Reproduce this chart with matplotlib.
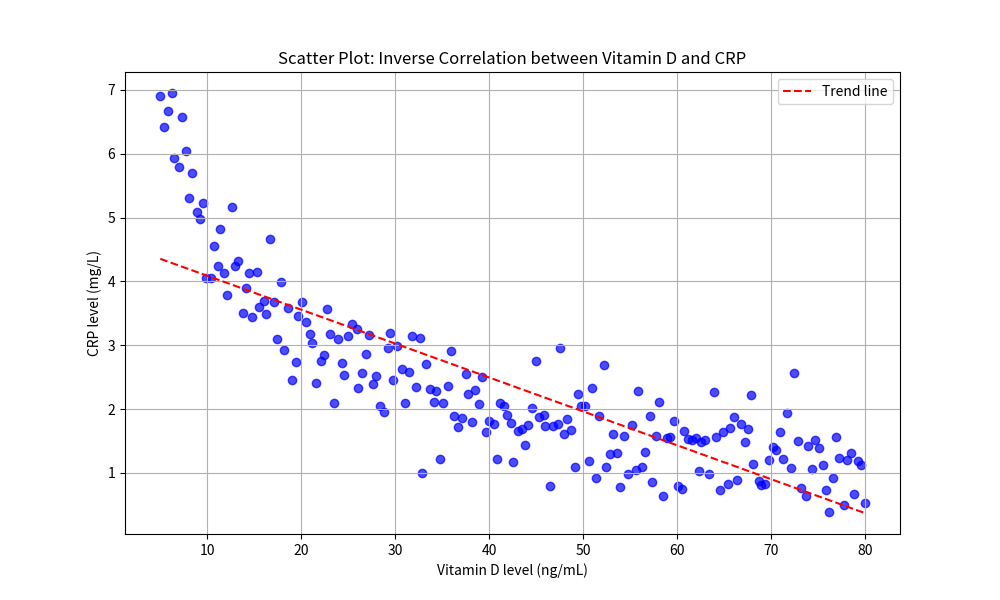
import numpy as np
import matplotlib
matplotlib.use("Agg")
import matplotlib.pyplot as plt

plt.rcParams['font.family'] = ['Noto Sans CJK SC', 'DejaVu Sans']

# values
vitamin_d = [
    5.0, 5.4, 5.8, 6.2, 6.5, 7.0, 7.3, 7.7, 8.1, 8.4, 8.9, 9.2, 9.6, 9.9,
    10.4, 10.7, 11.1, 11.4, 11.8, 12.1, 12.6, 13.0, 13.3, 13.8, 14.1, 14.5, 14.8,
    15.3, 15.5, 16.0, 16.3, 16.7, 17.1, 17.4, 17.9, 18.2, 18.6, 19.0, 19.4, 19.7,
    20.1, 20.5, 20.9, 21.2, 21.6, 22.1, 22.4, 22.8, 23.1, 23.5, 23.9, 24.3, 24.6,
    25.0, 25.4, 25.9, 26.1, 26.5, 26.9, 27.2, 27.7, 28.0, 28.4, 28.8, 29.2, 29.5, 29.8,
    30.2, 30.7, 31.1, 31.5, 31.8, 32.2, 32.6, 32.9, 33.3, 33.7, 34.1, 34.4, 34.8,
    35.1, 35.6, 36.0, 36.3, 36.7, 37.1, 37.5, 37.8, 38.2, 38.5, 38.9, 39.3, 39.7,
    40.0, 40.5, 40.9, 41.2, 41.6, 41.9, 42.3, 42.6, 43.1, 43.5, 43.8, 44.2, 44.6,
    45.0, 45.3, 45.8, 46.0, 46.5, 46.8, 47.3, 47.6, 48.0, 48.3, 48.7, 49.1, 49.5, 49.8,
    50.2, 50.6, 51.0, 51.4, 51.7, 52.2, 52.4, 52.9, 53.2, 53.6, 53.9, 54.4, 54.8,
    55.2, 55.6, 55.9, 56.3, 56.6, 57.1, 57.4, 57.8, 58.1, 58.5, 58.9, 59.3, 59.7,
    60.1, 60.5, 60.8, 61.2, 61.6, 62.0, 62.3, 62.6, 63.0, 63.4, 63.9, 64.2, 64.6, 64.9,
    65.4, 65.7, 66.1, 66.4, 66.8, 67.2, 67.6, 67.9, 68.1, 68.7, 69.0, 69.4, 69.8,
    70.2, 70.6, 71.0, 71.3, 71.7, 72.1, 72.5, 72.9, 73.2, 73.7, 74.0, 74.4, 74.7,
    75.1, 75.5, 75.9, 76.2, 76.6, 76.9, 77.3, 77.8, 78.1, 78.5, 78.9, 79.3, 79.6, 80.0,
]

crp = [
    6.91, 6.42, 6.67, 6.95, 5.93, 5.79, 6.57, 6.04, 5.31, 5.70, 5.08, 4.98, 5.22, 4.06,
    4.06, 4.56, 4.24, 4.82, 4.13, 3.79, 5.17, 4.24, 4.32, 3.51, 3.89, 4.13, 3.44,
    4.14, 3.60, 3.69, 3.49, 4.66, 3.68, 3.10, 3.99, 2.93, 3.59, 2.45, 2.73, 3.45,
    3.68, 3.36, 3.18, 3.04, 2.41, 2.75, 2.84, 3.56, 3.18, 2.09, 3.09, 2.72, 2.53,
    3.15, 3.33, 3.25, 2.33, 2.56, 2.86, 3.16, 2.40, 2.51, 2.04, 1.96, 2.96, 3.19, 2.45,
    2.98, 2.63, 2.09, 2.58, 3.15, 2.35, 3.11, 1.00, 2.70, 2.31, 2.11, 2.28, 1.21,
    2.09, 2.36, 2.91, 1.89, 1.72, 1.86, 2.55, 2.23, 1.79, 2.30, 2.08, 2.50, 1.64,
    1.81, 1.76, 1.21, 2.10, 2.05, 1.90, 1.78, 1.17, 1.66, 1.69, 1.43, 1.75, 2.01,
    2.75, 1.87, 1.90, 1.73, 0.80, 1.74, 1.76, 2.95, 1.61, 1.85, 1.67, 1.09, 2.24, 2.04,
    2.04, 1.19, 2.33, 0.92, 1.89, 2.69, 1.09, 1.29, 1.61, 1.31, 0.78, 1.57, 0.99,
    1.75, 1.05, 2.28, 1.10, 1.33, 1.89, 0.85, 1.57, 2.11, 0.64, 1.54, 1.56, 1.81,
    0.80, 0.75, 1.66, 1.53, 1.52, 1.55, 1.03, 1.48, 1.51, 0.98, 2.26, 1.56, 0.73, 1.64,
    0.82, 1.70, 1.88, 0.89, 1.77, 1.49, 1.69, 2.22, 1.14, 0.87, 0.81, 0.83, 1.20,
    1.40, 1.36, 1.64, 1.22, 1.94, 1.08, 2.56, 1.50, 0.76, 0.64, 1.42, 1.06, 1.52,
    1.39, 1.12, 0.73, 0.39, 0.92, 1.56, 1.23, 0.50, 1.20, 1.31, 0.67, 1.19, 1.12, 0.53,
]

x = np.array(vitamin_d)
y = np.array(crp)

# linear fit for the trend line
slope, intercept = np.polyfit(x, y, 1)
trend = slope * x + intercept

plt.figure(figsize=(10, 6), dpi=100)
plt.scatter(x, y, color='blue', alpha=0.7)
plt.plot(x, trend, 'r--', label='Trend line')

plt.title('Scatter Plot: Inverse Correlation between Vitamin D and CRP')
plt.xlabel('Vitamin D level (ng/mL)')
plt.ylabel('CRP level (mg/L)')
plt.legend()
plt.grid(True)

plt.savefig('out.png')
